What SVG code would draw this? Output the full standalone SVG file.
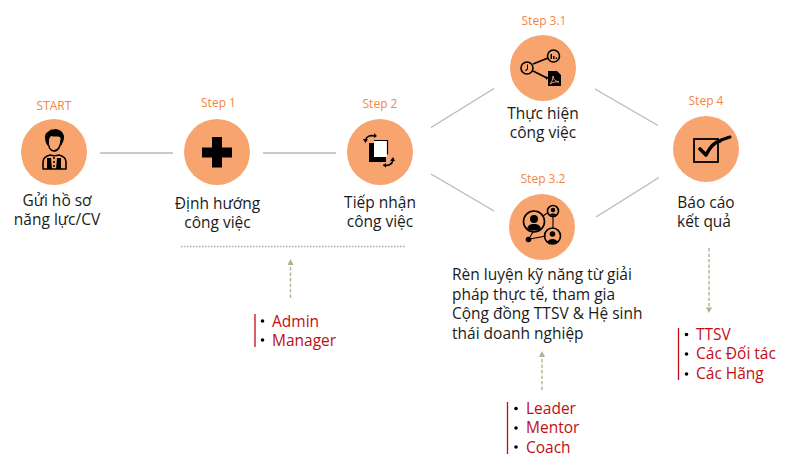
<svg xmlns="http://www.w3.org/2000/svg" width="800" height="468" viewBox="0 0 800 468">
<style>
text{font-family:"Open Sans","Noto Sans","DejaVu Sans",sans-serif}
.step{font-size:12px;fill:#f58546;text-anchor:middle}
.lbl{font-size:15.5px;fill:#1a1a1a;text-anchor:middle}
.lft{font-size:15.5px;fill:#1a1a1a}
.red{font-size:15.5px;fill:#c00d14}
.bul{fill:#000}
.bar{stroke:#c00d14;stroke-width:1.3;fill:none}
.disc{fill:#f7a46f}
.conn{stroke:#b9b9b9;stroke-width:1.3;fill:none}
.dash{stroke:#a6b98e;stroke-width:1.4;stroke-dasharray:3.5 2;fill:none}
.ah{fill:#a6b98e}
.ic{fill:#000}
.io{fill:none;stroke:#000;stroke-width:1.6}
.iw{fill:none;stroke:#000;stroke-width:1.6;stroke-linecap:round}
</style>
<g id="connectors">
<line class="conn" x1="100" y1="153" x2="173" y2="153"/>
<line class="conn" x1="263" y1="153" x2="336" y2="153"/>
<line class="conn" x1="431" y1="127.500" x2="494" y2="88.500"/>
<line class="conn" x1="431" y1="174" x2="494" y2="211"/>
<line class="conn" x1="595" y1="89" x2="658" y2="125.500"/>
<line class="conn" x1="596" y1="217" x2="659" y2="177.500"/>
<line x1="181" y1="246.500" x2="406" y2="246.500" stroke="#a9a9a9" stroke-width="1.300" stroke-dasharray="1.500 1.500"/>
<line class="dash" x1="290.500" y1="298" x2="290.500" y2="264"/>
<polygon class="ah" points="290.500,259 287.500,265 293.500,265"/>
<line class="dash" x1="542" y1="390" x2="542" y2="356"/>
<polygon class="ah" points="542,351 539,357 545,357"/>
<line class="dash" x1="709" y1="248" x2="709" y2="309"/>
<polygon class="ah" points="709,313 706,307.500 712,307.500"/>
</g>
<g id="node-start">
<text class="step" x="54" y="110">START</text>
<circle class="disc" cx="54" cy="152" r="33"/>
<path class="ic" d="M45 137c0-5 4-5 5-7 2-1 4 0 5-1 3 0 4 1 6 2 2 2 3 4 3 6 0 3-1 5-2 7l-1 2c0-3 0-7-1-9-3-1-6 0-9-1-2 2-3 6-3 10-2-2-3-5-3-9z"/>
<path class="io" d="M48 140c0 6 2 11 6 11s7-5 7-11"/>
<path class="io" style="stroke-linejoin:round" d="M43 169v-7c0-4 3-6 7-7 3 1 6 1 9 0 4 1 7 3 7 7v7z"/>
<path class="ic" d="M47 158h4l1 11h-5zM57 158h4v11h-5z"/>
<circle class="ic" cx="54" cy="158" r="1"/><circle class="ic" cx="54" cy="162" r="1"/><circle class="ic" cx="54" cy="166" r="1"/>
<text class="lbl" x="57" y="206">Gửi hồ sơ</text>
<text class="lbl" x="57" y="225">năng lực/CV</text>
</g>
<g id="node-step1">
<text class="step" x="218.500" y="107">Step 1</text>
<circle class="disc" cx="217" cy="152" r="33"/>
<path class="ic" d="M212 137h10v10.500h10v10h-10v10h-10v-10h-10v-10h10z"/>
<text class="lbl" x="217.500" y="209">Định hướng</text>
<text class="lbl" x="217.500" y="228">công việc</text>
</g>
<g id="node-step2">
<text class="step" x="380" y="108">Step 2</text>
<circle class="disc" cx="380" cy="152" r="33"/>
<path class="iw" d="M365.500 140c1-4 5-5 9-4"/>
<path class="ic" d="M363 139l5 0-2.500 4zM374 133l3 3-3 2z"/>
<path class="ic" d="M369 143h17v19h-17z"/>
<path fill="#fff" d="M374 141h13v16h-13z"/>
<path fill="none" stroke="#000" stroke-width="1.200" d="M374 140.500h13.500v14"/>
<path class="iw" d="M384 165c4 1 8 0 9-5"/>
<path class="ic" d="M390 161l5 0-2-4zM386 163l-3 2.500 3 2z"/>
<text class="lbl" x="380" y="208">Tiếp nhận</text>
<text class="lbl" x="380" y="227">công việc</text>
</g>
<g id="node-step31">
<text class="step" x="544" y="25">Step 3.1</text>
<circle class="disc" cx="543" cy="68" r="33"/>
<circle class="io" cx="527" cy="68" r="6"/>
<circle class="io" cx="553.500" cy="56" r="6"/>
<path class="io" d="M533 64l15-6M533 71l14 7"/>
<path class="ic" d="M527 64.500v4l-2 2 .8.700 2.200-2v-4.700zM550.500 54h1.500v5h-1.500zM553 56h1.500v3H553zM555.500 57.500h1.500V59h-1.500zM544 76l4.500 1.200-1.800 2.800z"/>
<path class="ic" d="M548 71h9l4 4v11h-13z"/>
<path stroke="#f7a46f" stroke-width="1" fill="none" d="M550 84c2-2 3-5 3-8 0 3 2 5 6 6-3-.5-6 0-9 2z"/>
<text class="lbl" x="543" y="119">Thực hiện</text>
<text class="lbl" x="543" y="138">công việc</text>
</g>
<g id="node-step32">
<text class="step" x="543" y="183">Step 3.2</text>
<circle class="disc" cx="542" cy="227" r="33"/>
<circle class="io" cx="534" cy="221.500" r="10.500"/>
<circle class="io" cx="553" cy="211" r="5.500"/>
<circle class="io" cx="552.500" cy="236" r="8"/>
<circle class="ic" cx="528.500" cy="239.500" r="2.800"/>
<circle class="ic" cx="534" cy="219" r="4"/>
<path class="ic" d="M527 229c1-4 3-5 7-5s6 1 7 5c-4 2-10 2-14 0z"/>
<circle class="ic" cx="553" cy="210" r="2.300"/>
<path class="ic" d="M549.500 215c1-2 6-2 7 0-2 1-5 1-7 0z"/>
<circle class="ic" cx="552.500" cy="234" r="2.800"/>
<path class="ic" d="M547.500 242c1-4 9-4 10 0-3 1.500-7 1.500-10 0z"/>
<path class="io" style="stroke-width:1.100" d="M543 216l5-3.500M553 217v11M530 239l16-3M530 237l3-5"/>
<text class="lft" x="452" y="280">Rèn luyện kỹ năng từ giải</text>
<text class="lft" x="452" y="299.500">pháp thực tế, tham gia</text>
<text class="lft" x="452" y="319">Cộng đồng TTSV &amp; Hệ sinh</text>
<text class="lft" x="452" y="338.500">thái doanh nghiệp</text>
</g>
<g id="node-step4">
<text class="step" x="706" y="105">Step 4</text>
<circle class="disc" cx="706" cy="149" r="33"/>
<rect x="694" y="139" width="24" height="23" fill="none" stroke="#000" stroke-width="1.800"/>
<path fill="none" stroke="#000" stroke-width="3.600" stroke-linecap="round" stroke-linejoin="round" d="M700 149l6 6c4-8 9-13 14-14"/>
<path fill="none" stroke="#000" stroke-width="3" stroke-linecap="round" d="M721 140l9-3"/>
<text class="lbl" x="706" y="208">Báo cáo</text>
<text class="lbl" x="711" y="227" style="text-anchor:end" dx="20">kết quả</text>
</g>
<g id="list-admin">
<line class="bar" x1="255" y1="314" x2="255" y2="347"/>
<circle class="bul" cx="262.500" cy="321" r="1.800"/><circle class="bul" cx="262.500" cy="340" r="1.800"/>
<text class="red" x="272" y="327">Admin</text>
<text class="red" x="272" y="346">Manager</text>
</g>
<g id="list-leader">
<line class="bar" x1="507.500" y1="402" x2="507.500" y2="454"/>
<circle class="bul" cx="516" cy="408.500" r="1.800"/><circle class="bul" cx="516" cy="428" r="1.800"/><circle class="bul" cx="516" cy="447" r="1.800"/>
<text class="red" x="526" y="414">Leader</text>
<text class="red" x="526" y="433">Mentor</text>
<text class="red" x="526" y="453">Coach</text>
</g>
<g id="list-ttsv">
<line class="bar" x1="678.500" y1="328" x2="678.500" y2="380"/>
<circle class="bul" cx="686.500" cy="334.500" r="1.800"/><circle class="bul" cx="686.500" cy="354" r="1.800"/><circle class="bul" cx="686.500" cy="374" r="1.800"/>
<text class="red" x="696" y="340">TTSV</text>
<text class="red" x="696" y="359">Các Đối tác</text>
<text class="red" x="696" y="379">Các Hãng</text>
</g>
</svg>
